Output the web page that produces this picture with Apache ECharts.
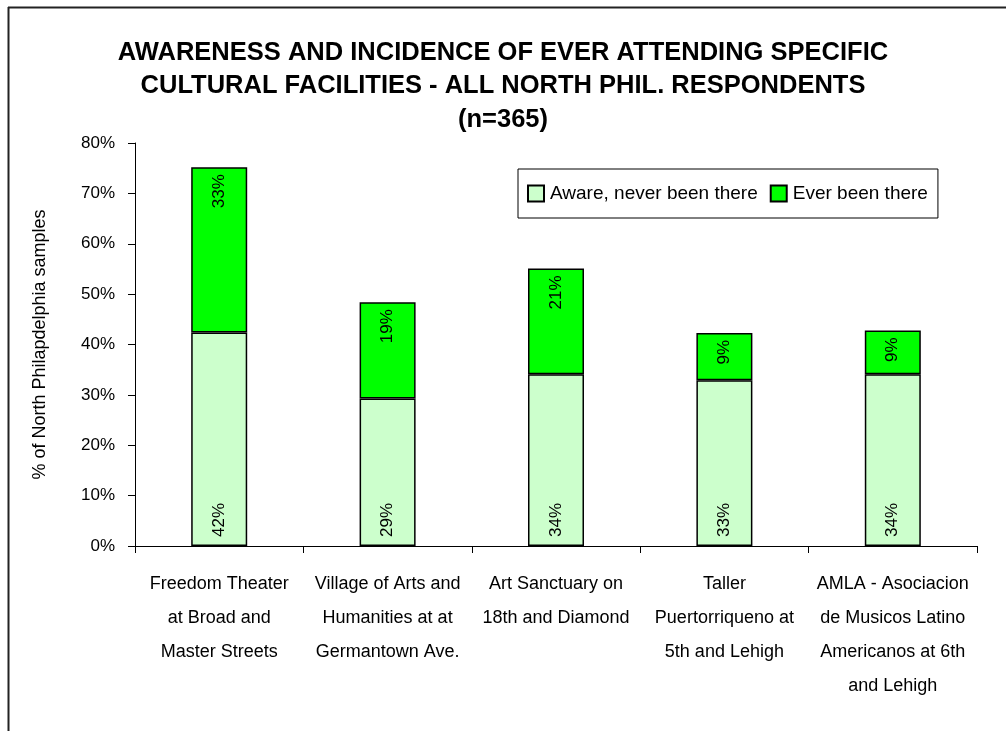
<!DOCTYPE html>
<html>
<head>
<meta charset="utf-8">
<style>html,body{margin:0;padding:0;background:#fff}#c{width:1006px;height:731px}</style>
<script src="https://cdn.jsdelivr.net/npm/echarts@6/dist/echarts.min.js"></script>
</head>
<body>
<div id="c"></div>
<script>
const categories = [
  "Freedom Theater\nat Broad and\nMaster Streets",
  "Village of Arts and\nHumanities at at\nGermantown Ave.",
  "Art Sanctuary on\n18th and Diamond",
  "Taller\nPuertorriqueno at\n5th and Lehigh",
  "AMLA - Asociacion\nde Musicos Latino\nAmericanos at 6th\nand Lehigh"
];
const awareNeverBeen = [42.4, 29.3, 34.1, 32.9, 34.1];
const everBeenThere = [32.8, 19.1, 21.0, 9.4, 8.7];
const yTicks = [0, 10, 20, 30, 40, 50, 60, 70, 80];
const titleText = "AWARENESS AND INCIDENCE OF EVER ATTENDING SPECIFIC\nCULTURAL FACILITIES - ALL NORTH PHIL. RESPONDENTS\n(n=365)";

const FONT = "Liberation Sans, Arial, sans-serif";
const chart = echarts.init(document.getElementById('c'), null, {renderer: 'canvas'});
chart.setOption({
  backgroundColor: '#fff',
  animation: false,
  textStyle: {fontFamily: FONT, color: '#000'},
  title: {
    text: titleText,
    left: 'center',
    top: 31,
    padding: 5,
    textStyle: {fontFamily: FONT, fontSize: 25.5, fontWeight: 'bold', lineHeight: 33.5, color: '#000', align: 'center'}
  },
  graphic: [
    {type: 'line', shape: {x1: 8, y1: 7.5, x2: 1006, y2: 7.5}, style: {stroke: '#222', lineWidth: 2}},
    {type: 'line', shape: {x1: 8.5, y1: 7, x2: 8.5, y2: 731}, style: {stroke: '#222', lineWidth: 2}}
  ],
  legend: {
    left: 518,
    top: 169,
    orient: 'horizontal',
    backgroundColor: '#fff',
    borderColor: '#000',
    borderWidth: 1,
    padding: [15, 10, 15, 9],
    itemGap: 12,
    itemWidth: 16,
    itemHeight: 16,
    icon: 'rect',
    textStyle: {fontFamily: FONT, fontSize: 19, color: '#000', padding: [0, 0, 0, 1]},
    data: ['Aware, never been there', 'Ever been there']
  },
  grid: {left: 135, right: 29, top: 143, bottom: 185, containLabel: false},
  xAxis: {
    type: 'category',
    data: categories,
    axisLine: {lineStyle: {color: '#000', width: 1}},
    axisTick: {show: true, length: 7, lineStyle: {color: '#000'}},
    axisLabel: {interval: 0, fontFamily: FONT, fontSize: 18, lineHeight: 34, color: '#000', margin: 21, align: 'center'}
  },
  yAxis: {
    type: 'value',
    min: yTicks[0],
    max: yTicks[yTicks.length - 1],
    interval: 10,
    name: '% of North Philapdelphia samples',
    nameLocation: 'middle',
    nameGap: 86,
    nameTextStyle: {fontFamily: FONT, fontSize: 18, color: '#000'},
    axisLine: {show: true, lineStyle: {color: '#000', width: 1}},
    axisTick: {show: true, length: 7, lineStyle: {color: '#000'}},
    splitLine: {show: false},
    axisLabel: {fontFamily: FONT, fontSize: 17, color: '#000', margin: 20, formatter: v => v + '%'}
  },
  series: [
    {
      name: 'Aware, never been there',
      type: 'bar',
      stack: 'total',
      barWidth: 56,
      data: awareNeverBeen,
      itemStyle: {color: '#CCFFCC', borderColor: '#000', borderWidth: 1.5},
      label: {
        show: true,
        position: 'insideBottom',
        rotate: 90,
        align: 'left',
        verticalAlign: 'middle',
        distance: 9,
        fontFamily: FONT,
        fontSize: 17,
        color: '#000',
        formatter: p => Math.round(p.value) + '%'
      }
    },
    {
      name: 'Ever been there',
      type: 'bar',
      stack: 'total',
      barWidth: 56,
      data: everBeenThere,
      itemStyle: {color: '#00FF00', borderColor: '#000', borderWidth: 1.5},
      label: {
        show: true,
        position: 'insideTop',
        rotate: 90,
        align: 'right',
        verticalAlign: 'middle',
        distance: 7,
        fontFamily: FONT,
        fontSize: 17,
        color: '#000',
        formatter: p => Math.round(p.value) + '%'
      }
    }
  ]
});
</script>
</body>
</html>
